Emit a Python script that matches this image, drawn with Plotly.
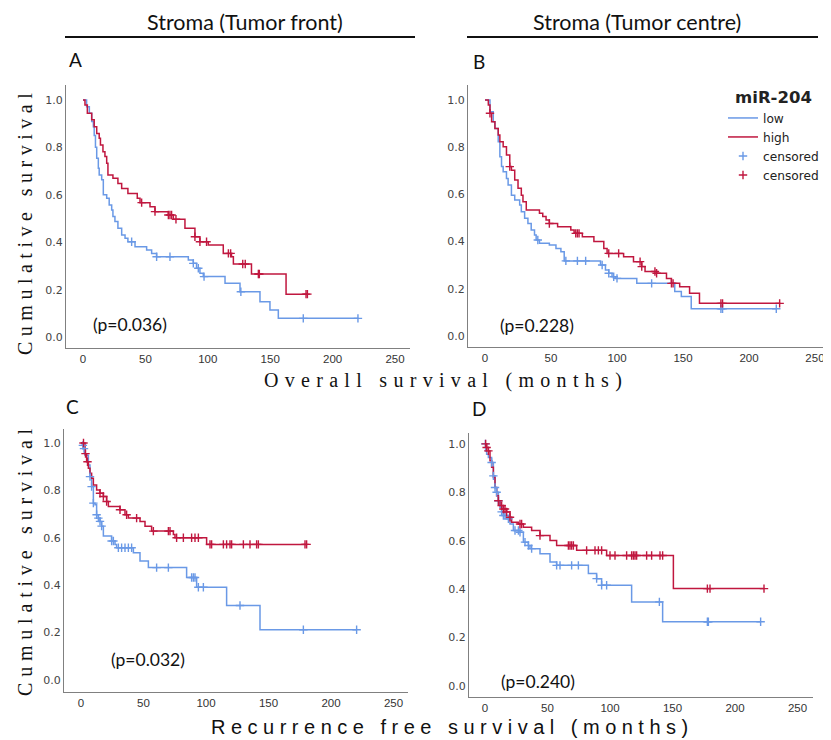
import plotly.graph_objects as go

BLUE = '#6a99e6'
RED = '#c0173f'

# ---------------- data (months, cumulative survival) ----------------
# Panel A: overall survival, tumour front
a_low_t = [0, 2.9, 5.1, 7, 8.3, 9, 10, 11, 12.3, 13, 15, 16.3, 19, 21, 23, 24, 25.6, 28, 31, 33.7, 36, 41.7, 51, 55, 59, 84.4, 88.4, 91, 93.7, 96.4, 113.8, 125.8, 141.8, 149.8, 156.5]
a_low_s = [1.0, 0.971, 0.944, 0.909, 0.887, 0.85, 0.80, 0.754, 0.712, 0.684, 0.663, 0.60, 0.585, 0.557, 0.536, 0.508, 0.487, 0.459, 0.431, 0.417, 0.402, 0.381, 0.367, 0.353, 0.339, 0.325, 0.311, 0.29, 0.269, 0.255, 0.227, 0.191, 0.149, 0.114, 0.079]
a_low_end = 220.6
a_low_cens = [39, 59, 69.7, 88.4, 92.4, 97, 126.5, 176.5, 220.3]

a_high_t = [0, 1.6, 3.5, 7, 9, 11, 13, 14, 16, 17.6, 19, 20, 24, 28, 31, 36, 43.5, 45.7, 53.7, 57.7, 68.4, 72.4, 81.7, 89.7, 93.7, 100.4, 112.4, 119, 120.5, 135, 162.7]
a_high_s = [1.0, 0.979, 0.944, 0.916, 0.887, 0.859, 0.838, 0.81, 0.782, 0.761, 0.733, 0.684, 0.670, 0.648, 0.627, 0.606, 0.585, 0.567, 0.55, 0.529, 0.515, 0.497, 0.459, 0.423, 0.402, 0.388, 0.353, 0.339, 0.308, 0.266, 0.181]
a_high_end = 180.5
a_high_cens = [47, 57.7, 68.4, 69.7, 71, 74.5, 89.7, 93.7, 99, 116.5, 118.3, 128, 130, 140.5, 141.3, 178.7, 179.8]

# Panel B: overall survival, tumour centre
b_low_t = [0, 3.75, 6.25, 7.5, 10, 11.25, 12.5, 13.75, 16.25, 17.5, 20, 22.5, 26.25, 27.5, 30, 32.5, 35, 37.5, 38.75, 41.25, 48.75, 53.75, 57.5, 60, 87.5, 91.25, 93.75, 96.25, 98.75, 115, 143.75, 148.75, 156.25]
b_low_s = [1.0, 0.951, 0.908, 0.880, 0.823, 0.760, 0.718, 0.696, 0.668, 0.640, 0.597, 0.576, 0.555, 0.527, 0.499, 0.477, 0.449, 0.428, 0.407, 0.393, 0.386, 0.371, 0.357, 0.318, 0.301, 0.280, 0.266, 0.251, 0.244, 0.223, 0.188, 0.167, 0.115]
b_low_end = 220.7
b_low_cens = [40, 61.25, 70, 76.25, 88.75, 93.75, 97.5, 100, 126.25, 178.75, 180, 220.7]

b_high_t = [0, 2.5, 3.75, 5, 7.5, 10, 11.25, 13.75, 16.25, 18.75, 20, 22.5, 25, 27.5, 28.75, 31.25, 41.25, 43.75, 46.25, 48.75, 55, 65, 67.5, 73.75, 82.5, 90, 92.5, 105, 112.5, 118.75, 121.25, 130, 137.5, 141.25, 147.5, 155, 162.5]
b_high_s = [1.0, 0.979, 0.944, 0.908, 0.880, 0.852, 0.823, 0.802, 0.767, 0.718, 0.703, 0.661, 0.626, 0.597, 0.569, 0.534, 0.520, 0.506, 0.492, 0.477, 0.463, 0.449, 0.435, 0.421, 0.400, 0.371, 0.350, 0.336, 0.315, 0.294, 0.273, 0.266, 0.244, 0.223, 0.209, 0.181, 0.138]
b_high_end = 223.75
b_high_cens = [3.75, 18.75, 48.75, 68.75, 70, 71.25, 93.75, 101.25, 117.5, 118.75, 128.75, 130, 141.25, 142.5, 178.75, 180, 223.25]

# Panel C: recurrence free survival, tumour front
c_low_t = [0, 1.0, 1.9, 3.2, 5.9, 7.2, 8.5, 9.9, 11.2, 12.5, 13.9, 15.2, 16.5, 17.9, 24.5, 27.2, 28.5, 41.9, 47.2, 53.9, 84.5, 92.5, 116.5, 143.2]
c_low_s = [1.0, 0.99, 0.976, 0.948, 0.907, 0.858, 0.816, 0.746, 0.739, 0.697, 0.683, 0.669, 0.649, 0.607, 0.586, 0.572, 0.558, 0.537, 0.502, 0.474, 0.432, 0.391, 0.314, 0.212]
c_low_end = 220.5
c_low_cens = [1.5, 2.4, 7.2, 8.5, 9.9, 12.5, 13.9, 15.2, 16.5, 24.5, 25.9, 29.9, 32.5, 35.2, 37.9, 40.5, 60.5, 69.9, 88.5, 89.9, 91.2, 93.9, 97.9, 127.2, 177.9, 220.5]

c_high_t = [0, 3.2, 4.5, 5.9, 7.2, 8.5, 9.9, 12.5, 15.2, 17.9, 20.5, 21.9, 31.2, 35.2, 37.9, 47.2, 51.2, 56.5, 73.9, 75.2, 100.5]
c_high_s = [1.0, 0.955, 0.921, 0.893, 0.872, 0.851, 0.823, 0.802, 0.788, 0.774, 0.753, 0.732, 0.718, 0.697, 0.683, 0.669, 0.649, 0.628, 0.614, 0.600, 0.572]
c_high_end = 181
c_high_cens = [2.0, 3.6, 5.2, 15.2, 17.9, 20.5, 31.2, 36.5, 44.5, 57.9, 69.9, 71.2, 76.5, 81.9, 88.5, 91.2, 93.9, 103.2, 104.5, 113.9, 116.5, 119.2, 120.5, 129.9, 135.2, 140.5, 141.9, 179.2, 180.5]

# Panel D: recurrence free survival, tumour centre
d_low_t = [0, 0.5, 1.3, 2.7, 5.3, 6.7, 8.0, 9.3, 10.7, 12.0, 13.3, 14.7, 17.3, 20.0, 22.7, 28.0, 30.7, 34.7, 36.0, 44.0, 52.0, 57.3, 82.7, 89.3, 93.3, 117.3, 142.1]
d_low_s = [1.0, 0.971, 0.957, 0.944, 0.923, 0.868, 0.820, 0.800, 0.765, 0.738, 0.719, 0.704, 0.690, 0.669, 0.642, 0.635, 0.594, 0.580, 0.567, 0.546, 0.512, 0.498, 0.464, 0.443, 0.416, 0.347, 0.265]
d_low_end = 220.5
d_low_cens = [0.3, 5.3, 6.7, 8.0, 9.3, 10.7, 13.3, 14.7, 16.0, 18.7, 24.0, 26.7, 28.0, 32.0, 34.7, 37.3, 57.3, 60.0, 69.3, 74.7, 89.3, 93.3, 97.3, 139.5, 177.9, 178.7, 220.5]

d_high_t = [0, 1.3, 2.7, 4.0, 5.3, 6.7, 8.0, 9.3, 10.7, 12.0, 14.7, 17.3, 20.0, 21.3, 26.7, 30.7, 37.3, 44.0, 52.0, 57.3, 73.3, 97.3, 150.7]
d_high_s = [1.0, 0.985, 0.971, 0.930, 0.903, 0.861, 0.820, 0.786, 0.765, 0.745, 0.731, 0.719, 0.697, 0.676, 0.669, 0.656, 0.642, 0.621, 0.601, 0.580, 0.560, 0.539, 0.402]
d_high_end = 223.5
d_high_cens = [0.5, 1.3, 2.7, 10.7, 13.3, 14.7, 16.0, 17.3, 20.0, 28.0, 29.3, 44.0, 66.7, 68.0, 69.3, 70.7, 81.3, 88.0, 90.7, 93.3, 100.0, 104.0, 113.3, 117.3, 118.7, 120.0, 121.3, 129.3, 133.3, 140.0, 142.1, 177.9, 180.0, 223.2]

p_values = ['(p=0.036)', '(p=0.228)', '(p=0.032)', '(p=0.240)']
panel_letters = ['A', 'B', 'C', 'D']
x_ticks = [0, 50, 100, 150, 200, 250]
y_ticks = [0.0, 0.2, 0.4, 0.6, 0.8, 1.0]

# The page body adds an 8 px margin, so the figure is made 8 px smaller and
# every layout position (given in window pixels) is shifted by that offset.
OFF = 8
W, H = 831 - OFF, 740 - OFF


def px(x):
    return (x - OFF) / W


def py(y):
    return 1 - (y - OFF) / H


def step_value(times, surv, t):
    v = surv[0]
    for ti, si in zip(times, surv):
        if ti <= t:
            v = si
    return v


fig = go.Figure()

panels = [
    ('x', 'y', a_low_t, a_low_s, a_low_end, a_low_cens, a_high_t, a_high_s, a_high_end, a_high_cens, False),
    ('x2', 'y2', b_low_t, b_low_s, b_low_end, b_low_cens, b_high_t, b_high_s, b_high_end, b_high_cens, True),
    ('x3', 'y3', c_low_t, c_low_s, c_low_end, c_low_cens, c_high_t, c_high_s, c_high_end, c_high_cens, False),
    ('x4', 'y4', d_low_t, d_low_s, d_low_end, d_low_cens, d_high_t, d_high_s, d_high_end, d_high_cens, False),
]

for (xa, ya, lt, ls, le, lc, ht, hs, he, hc, leg) in panels:
    for t, s, e, name, col, rank in [(lt, ls, le, 'low', BLUE, 1), (ht, hs, he, 'high', RED, 2)]:
        fig.add_trace(go.Scatter(
            x=t + [e], y=s + [s[-1]], mode='lines', line=dict(color=col, width=1.5, shape='hv'),
            name=name, xaxis=xa, yaxis=ya, showlegend=leg, legendrank=rank,
            hoverinfo='skip'))
    for t, s, c, col, rank in [(lt, ls, lc, BLUE, 3), (ht, hs, hc, RED, 4)]:
        fig.add_trace(go.Scatter(
            x=c, y=[step_value(t, s, ci) for ci in c], mode='markers',
            marker=dict(symbol='cross-thin', size=6, line=dict(color=col, width=1.4), color=col),
            name='censored', xaxis=xa, yaxis=ya, showlegend=leg, legendrank=rank, hoverinfo='skip'))

# axis geometry in window pixels
axis_geo = {
    # name: (x0px, x1px, xrange, ytop_px, ybot_px, yrange)
    '': (66, 410, [-13.6, 262], 85, 348, [-0.046, 1.063]),
    '2': (468, 830, [-12.9, 261.4], 85, 347, [-0.047, 1.064]),
    '3': (64, 408, [-13.6, 261.6], 429, 692, [-0.051, 1.059]),
    '4': (469, 813, [-12.8, 262.4], 433, 697, [-0.046, 1.045]),
}

tick_font_x = dict(family='Liberation Sans Narrow, Arial Narrow, Liberation Sans', size=11.5, color='#333333')
tick_font_y = dict(family='DejaVu Sans', size=11, color='#444444')

for k, (x0, x1, xr, yt, yb, yr) in axis_geo.items():
    fig.layout['xaxis' + k] = dict(
        domain=[px(x0), px(x1)], range=xr, anchor='y' + k, tickvals=x_ticks,
        showgrid=False, zeroline=False, showline=True, linecolor='#808080', linewidth=1.2,
        ticks='', tickfont=tick_font_x, ticklabeloverflow='allow', fixedrange=True)
    fig.layout['yaxis' + k] = dict(
        domain=[py(yb), py(yt)], range=yr, anchor='x' + k, tickvals=y_ticks, tickformat='.1f',
        showgrid=False, zeroline=False, showline=True, linecolor='#808080', linewidth=1.2,
        ticks='', tickfont=tick_font_y, fixedrange=True)

annotations = []
title_font = dict(family='Lato, Open Sans', size=21.5, color='#111111')
annotations.append(dict(x=px(245), y=py(22), text='Stroma (Tumor front)', font=title_font))
annotations.append(dict(x=px(637), y=py(22), text='Stroma (Tumor centre)', font=title_font))

letter_pos = [(67, 60), (471, 62), (64, 406), (470, 408)]
for (lx, ly), lt in zip(letter_pos, panel_letters):
    annotations.append(dict(x=px(lx), y=py(ly), text=lt, xanchor='left',
                            font=dict(family='Lato, Open Sans', size=19, color='#111111')))

p_pos = [(130, 324), (537, 325), (148, 659), (538, 681)]
for (lx, ly), pt in zip(p_pos, p_values):
    annotations.append(dict(x=px(lx), y=py(ly), text=pt,
                            font=dict(family='Lato, Open Sans', size=17.5, color='#111111')))

serif = dict(family='Liberation Serif, Times New Roman', size=20, color='#111111')
annotations.append(dict(x=px(25), y=py(222), textangle=-90,
                        text='<span style="letter-spacing:5.5px">Cumulative survival</span>', font=serif))
annotations.append(dict(x=px(25), y=py(560), textangle=-90,
                        text='<span style="letter-spacing:5.8px">Cumulative survival</span>', font=serif))
annotations.append(dict(x=px(446), y=py(381),
                        text='<span style="letter-spacing:6.3px">Overall survival (months)</span>', font=serif))
annotations.append(dict(x=px(452), y=py(727),
                        text='<span style="letter-spacing:5.5px">Recurrence free survival (months)</span>',
                        font=dict(family='Liberation Sans Narrow, Arial Narrow, Liberation Sans', size=20, color='#111111')))

for a in annotations:
    a.setdefault('xref', 'paper')
    a.setdefault('yref', 'paper')
    a.setdefault('showarrow', False)
    a.setdefault('xanchor', 'center')
    a.setdefault('yanchor', 'middle')

shapes = [
    dict(type='line', xref='paper', yref='paper', x0=px(65), x1=px(415), y0=py(37), y1=py(37),
         line=dict(color='#111111', width=2)),
    dict(type='line', xref='paper', yref='paper', x0=px(467), x1=px(818), y0=py(37), y1=py(37),
         line=dict(color='#111111', width=2)),
]

fig.update_layout(
    width=W, height=H, margin=dict(l=0, r=0, t=0, b=0),
    paper_bgcolor='white', plot_bgcolor='white',
    annotations=annotations, shapes=shapes,
    legend=dict(x=px(723), y=py(82), xanchor='left', yanchor='top',
                title=dict(text='<b>miR-204</b>', side='top center',
                           font=dict(family='DejaVu Sans', size=16.5, color='#222222')),
                font=dict(family='DejaVu Sans', size=12.2, color='#222222'),
                bgcolor='rgba(0,0,0,0)', tracegroupgap=0, itemwidth=30),
    showlegend=True,
)

fig.write_html('out.html')
